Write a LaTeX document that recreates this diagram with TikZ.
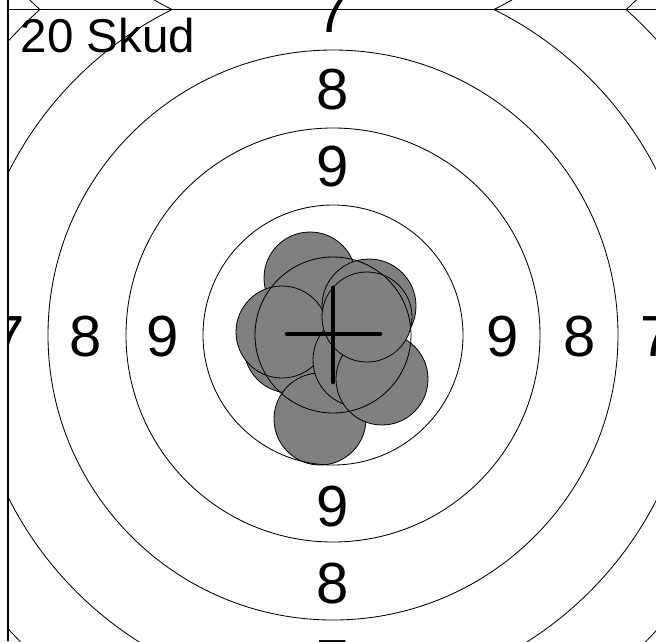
\documentclass[tikz,border=0pt]{standalone}
\usepackage{fontspec}
\setmainfont{Liberation Sans}
\begin{document}
\begin{tikzpicture}[x=1pt,y=-1pt,
  ring/.style={draw=black,line width=0.85pt},
  shot/.style={fill=shotgray,draw=black,line width=0.8pt},
  lbl/.style={anchor=base,inner sep=0pt,font=\fontsize{58}{60}\selectfont},
  frameline/.style={draw=black,line width=1.4pt},
  cross/.style={draw=black,line width=4.5pt,line cap=round}]
\definecolor{shotgray}{RGB}{128,128,128}
\useasboundingbox (0,0) rectangle (656,641);
\clip (0,0) rectangle (656,641);
% shots
\path[shot] (310,278) circle[radius=46pt];
\path[shot] (290,347) circle[radius=46pt];
\path[shot] (282,332) circle[radius=46pt];
\path[shot] (320,419) circle[radius=46pt];
\path[shot] (360,360) circle[radius=47pt];
\path[shot] (382,379) circle[radius=46pt];
\path[shot] (369,306) circle[radius=47pt];
\path[shot] (367,317) circle[radius=45pt];
% rings and side labels clipped to the frame
\begin{scope}
\clip (8,9.5) rectangle (656,641);
\foreach \r in {78,130,207,285,363,438}
  \path[ring] (333,335) circle[radius=\r pt];
\node[lbl] (l7) at (9,356) {7};
\end{scope}
% mirrored arcs above the top line
\begin{scope}
\clip (8,0) rectangle (656,9.5);
\foreach \r in {363,438}
  \path[ring] (333,-316) circle[radius=\r pt];
\end{scope}
% frame lines
\coordinate (tl) at (8,9.5);
\coordinate (tr) at (656,9.5);
\coordinate (lt) at (8,0);
\coordinate (lb) at (8,641);
\path[frameline] (tl) -- (tr);
\path[frameline] (lt) -- (lb);
% labels
\node[lbl] (t7) at (333,32) {7};
\node[lbl] (t8) at (333,109) {8};
\node[lbl] (t9) at (333,186) {9};
\node[lbl] (b9) at (333,526) {9};
\node[lbl] (b8) at (333,603) {8};
\node[lbl] (b7) at (333,680) {7};
\node[lbl] (l8) at (86,356) {8};
\node[lbl] (l9) at (163,356) {9};
\node[lbl] (r9) at (503,356) {9};
\node[lbl] (r8) at (580,356) {8};
\node[lbl] (r7) at (657,356) {7};
\node[anchor=base west,inner sep=0pt,font=\fontsize{47.5}{50}\selectfont] (title) at (20.5,52.5) {20 Skud};
% crosshair
\coordinate (hl) at (287,334);
\coordinate (hr) at (380,334);
\coordinate (vt) at (333,288);
\coordinate (vb) at (333,382);
\path[cross] (hl) -- (hr);
\path[cross] (vt) -- (vb);
\end{tikzpicture}
\end{document}
